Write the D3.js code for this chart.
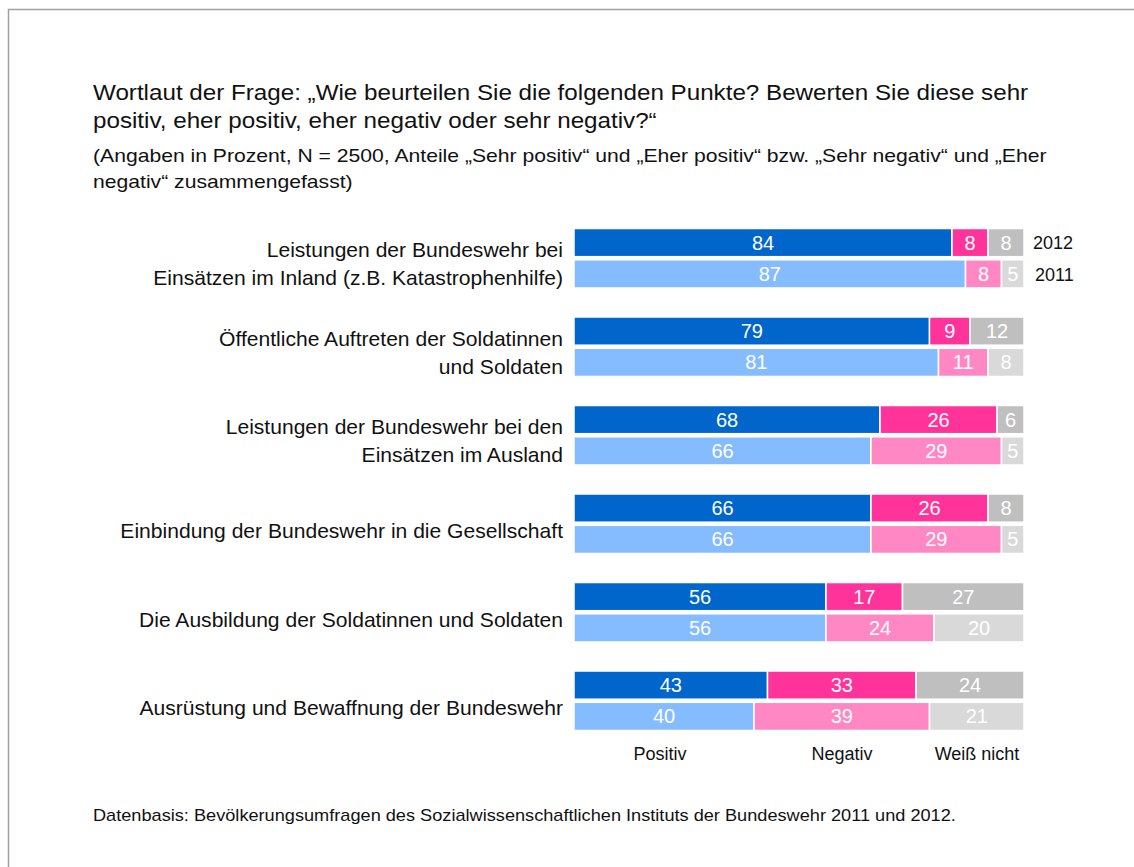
<!DOCTYPE html>
<html><head><meta charset="utf-8">
<script src="https://cdn.jsdelivr.net/npm/d3@7"></script>
<style>
html,body{margin:0;padding:0;background:#fff;}
svg{display:block;font-family:"Liberation Sans",Arial,sans-serif;}
</style></head>
<body>
<svg id="chart" width="1134" height="867"></svg>
<script>
const categories = [
  ["Leistungen der Bundeswehr bei","Einsätzen im Inland (z.B. Katastrophenhilfe)"],
  ["Öffentliche Auftreten der Soldatinnen","und Soldaten"],
  ["Leistungen der Bundeswehr bei den","Einsätzen im Ausland"],
  ["Einbindung der Bundeswehr in die Gesellschaft"],
  ["Die Ausbildung der Soldatinnen und Soldaten"],
  ["Ausrüstung und Bewaffnung der Bundeswehr"]
];
const years = ["2012","2011"];
const responses = ["Positiv","Negativ","Weiß nicht"];
const values2012 = [[84,8,8],[79,9,12],[68,26,6],[66,26,8],[56,17,27],[43,33,24]];
const values2011 = [[87,8,5],[81,11,8],[66,29,5],[66,29,5],[56,24,20],[40,39,21]];
const titleLines = ["Wortlaut der Frage: „Wie beurteilen Sie die folgenden Punkte? Bewerten Sie diese sehr",
  "positiv, eher positiv, eher negativ oder sehr negativ?“"];
const subtitleLines = ["(Angaben in Prozent, N = 2500, Anteile „Sehr positiv“ und „Eher positiv“ bzw. „Sehr negativ“ und „Eher",
  "negativ“ zusammengefasst)"];
const footer = "Datenbasis: Bevölkerungsumfragen des Sozialwissenschaftlichen Instituts der Bundeswehr 2011 und 2012.";

const colors = {
  "2012": ["#0066cc","#ff3399","#bfbfbf"],
  "2011": ["#85bbff","#ff88c4","#d9d9d9"]
};
const textColor = "#111";

const svg = d3.select("#chart");

// frame
svg.append("path").attr("d","M8.5,867 V9.5 H1134").attr("fill","none").attr("stroke","#a0a0a0").attr("stroke-width",1.5);

const x = d3.scaleLinear().domain([0,100]).range([574,1024]);
const yCat = d3.scaleBand().domain(d3.range(categories.length)).range([228.5,730.5]).paddingInner(0.328).paddingOuter(0);
const yYear = d3.scaleBand().domain(years).range([0,yCat.bandwidth()]).paddingInner(0.1);

// stretched text helper (reference glyphs are slightly wider than the fallback font)
function stext(px, py, str, size, sx, anchor){
  return svg.append("text")
    .attr("transform",`translate(${px},${py}) scale(${sx},1)`)
    .attr("text-anchor",anchor||"start")
    .attr("font-size",size).attr("fill",textColor).text(str);
}

// titles
titleLines.forEach((l,i)=>stext(93,100+i*27.5,l,22,1.10));
subtitleLines.forEach((l,i)=>stext(93,162+i*26,l,19,1.113));

// category labels
categories.forEach((lines,i)=>{
  const cy = yCat(i) + yCat.bandwidth()/2;
  const lh = 28;
  const off = lines.length > 1 ? 13 : 14.5;
  lines.forEach((l,j)=>{
    stext(563, cy + off + (j-(lines.length-1)/2)*lh, l, 20, 1.054, "end");
  });
});

// bars
const data = {"2012":values2012,"2011":values2011};
categories.forEach((_,i)=>{
  years.forEach(yr=>{
    const vals = data[yr][i];
    let cum = 0;
    const y0 = yCat(i)+yYear(yr);
    const h = yYear.bandwidth();
    vals.forEach((v,k)=>{
      const xs = x(cum), xe = x(cum+v);
      svg.append("rect").attr("x",xs).attr("y",y0).attr("width",xe-xs).attr("height",h)
        .attr("fill",colors[yr][k]).attr("stroke","#fff").attr("stroke-width",1.5);
      svg.append("text").attr("x",(xs+xe)/2).attr("y",y0+h/2).attr("dy","0.35em")
        .attr("text-anchor","middle").attr("font-size",20).attr("fill","#fff").text(v);
      cum += v;
    });
  });
});

// year labels
years.forEach((yr,j)=>{
  svg.append("text").attr("x", j===0?1033:1035).attr("y",yCat(0)+yYear(yr)+yYear.bandwidth()/2).attr("dy","0.38em")
    .attr("font-size",18).attr("fill",textColor).text(yr);
});

// legend labels below bars
const legendX = [660,842,977];
responses.forEach((r,k)=>{
  svg.append("text").attr("x",legendX[k]).attr("y",760).attr("text-anchor","middle")
    .attr("font-size",18).attr("fill",textColor).text(r);
});

stext(93,821,footer,16,1.136);
</script>
</body></html>
